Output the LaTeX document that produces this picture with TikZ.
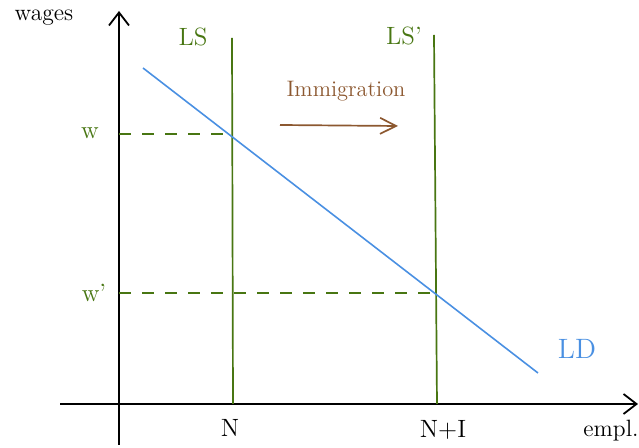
\documentclass[tikz,border=0pt]{standalone}
\usetikzlibrary{arrows.meta}
\definecolor{lsgreen}{RGB}{72,118,18}
\definecolor{ldblue}{RGB}{74,144,226}
\definecolor{imbrown}{RGB}{140,88,48}
\begin{document}
\begin{tikzpicture}[x=0.5pt,y=-0.5pt,
  axis/.style={line width=0.9pt,black},
  supply/.style={line width=0.85pt,lsgreen},
  demand/.style={line width=0.8pt,ldblue},
  guide/.style={line width=0.85pt,lsgreen,dash pattern=on 6pt off 5.5pt},
  glab/.style={text=lsgreen,inner sep=0pt,font=\fontsize{12.5}{14}\selectfont},
  blab/.style={text=black,inner sep=0pt,font=\fontsize{12.5}{14}\selectfont},
  tip/.style={-{Straight Barb[length=6.5pt,width=10pt,line width=0.9pt]}}]
\useasboundingbox (0,0) rectangle (639,448);
% axes
\coordinate (yb) at (119,445);
\coordinate (yt) at (119,11);
\coordinate (xl) at (60,404);
\coordinate (xr) at (638,404);
\draw[axis,tip] (yb) -- (yt);
\draw[axis,tip] (xl) -- (xr);
% supply curves
\coordinate (ls1t) at (232,38);
\coordinate (ls1b) at (233,404);
\coordinate (ls2t) at (434,35);
\coordinate (ls2b) at (437,404);
\draw[supply] (ls1t) -- (ls1b);
\draw[supply] (ls2t) -- (ls2b);
% demand
\coordinate (ldt) at (143,68);
\coordinate (ldb) at (538,373);
\draw[demand] (ldt) -- (ldb);
% guides
\coordinate (wa) at (119,134);
\coordinate (wb) at (232,134);
\coordinate (wpa) at (119,293);
\coordinate (wpb) at (436,293);
\draw[guide] (wa) -- (wb);
\draw[guide] (wpa) -- (wpb);
% immigration arrow
\coordinate (ima) at (280,125);
\coordinate (imb) at (398,126);
\draw[imbrown,line width=0.85pt,-{Straight Barb[length=8pt,width=8pt,line width=0.85pt]}] (ima) -- (imb);
% labels
\node[inner sep=0pt,font=\fontsize{11.8}{14}\selectfont] (wages) at (44,18) {wages};
\node[inner sep=0pt,font=\fontsize{11.8}{14}\selectfont] (empl) at (611,431) {empl.};
\node[glab] (lsl) at (193,37) {LS};
\node[glab] (lspl) at (404,36) {LS'};
\node[glab] (wl) at (90,133) {w};
\node[glab] (wpl) at (94,293) {w'};
\node[blab] (nl) at (230,428) {N};
\node[blab] (nil) at (443,430) {N+I};
\node[inner sep=0pt,text=ldblue,font=\fontsize{14}{16}\selectfont] (ldl) at (577,349) {LD};
\node[inner sep=0pt,text=imbrown,font=\fontsize{11.2}{13}\selectfont] (iml) at (346,91) {Immigration};
\end{tikzpicture}
\end{document}
